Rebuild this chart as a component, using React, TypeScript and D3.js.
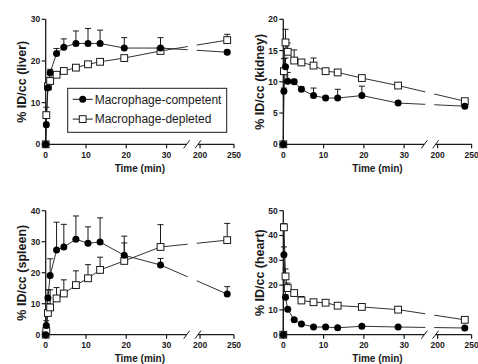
import * as d3 from 'd3'

// sampling times (min)
const times = [0, 0.15, 0.55, 1.1, 2.7, 4.5, 7.5, 10.5, 13.5, 19.5, 28.5, 240]

const liverComp = [0, 4.7, 13.6, 17.2, 21.8, 23.3, 24.2, 24.2, 24.2, 23.1, 23.1, 22.1]
const liverCompErr = [0, 0.6, 1.0, 0.8, 1.2, 2.0, 3.0, 3.6, 3.2, 2.5, 2.5, 0.5]
const liverDep = [0, 7.0, 13.9, 15.2, 16.7, 17.6, 18.4, 19.2, 19.8, 20.7, 22.4, 25.0]
const liverDepErr = [0, 1.9, 0.5, 0.9, 0.5, 0.6, 0.7, 0.5, 0.5, 0.5, 0.6, 1.4]

const kidneyComp = [0, 8.5, 12.4, 10.1, 10.0, 8.8, 7.8, 7.4, 7.4, 7.8, 6.6, 6.1]
const kidneyCompErr = [0, 0.5, 1.4, 1.4, 0.4, 0.4, 1.2, 0.3, 1.4, 1.5, 0.3, 0.3]
const kidneyDep = [0, 11.7, 16.3, 14.8, 13.4, 13.1, 12.6, 11.7, 11.5, 10.6, 9.4, 6.9]
const kidneyDepErr = [0, 2.0, 2.1, 1.4, 1.7, 0.3, 1.2, 0.3, 0.3, 0.3, 0.3, 0.3]

const spleenComp = [0, 3.0, 11.8, 19.1, 27.3, 28.3, 30.8, 29.5, 29.9, 25.6, 22.5, 13.1]
const spleenCompErr = [0, 1.5, 2.7, 5.4, 9.0, 7.3, 7.5, 5.3, 7.8, 6.2, 2.1, 2.4]
const spleenDep = [0, 1.2, 7.0, 8.8, 11.7, 13.3, 16.0, 18.2, 20.9, 23.8, 28.3, 30.5]
const spleenDepErr = [0, 1.0, 3.0, 5.7, 3.5, 4.4, 4.6, 4.4, 4.1, 5.8, 7.2, 5.4]

const heartComp = [0, 32.2, 15.1, 10.3, 6.0, 4.3, 3.1, 3.1, 2.8, 3.4, 3.1, 2.7]
const heartCompErr = [0, 3.2, 1.0, 0.6, 0.5, 0.4, 0.3, 0.3, 0.3, 0.3, 0.3, 0.3]
const heartDep = [0, 43.3, 23.5, 18.8, 16.8, 13.8, 13.1, 12.9, 11.7, 11.2, 10.1, 6.0]
const heartDepErr = [0, 1.5, 3.0, 2.0, 1.0, 1.6, 0.6, 0.5, 0.5, 0.5, 0.5, 0.5]

const xTicksA = [0, 10, 20, 30]
const xTicksB = [200, 250]
const seriesNames = ['Macrophage-competent', 'Macrophage-depleted']

const panels = [
  { id: 'liver', label: '% ID/cc (liver)', yTicks: [0, 10, 20, 30], comp: liverComp, compErr: liverCompErr, dep: liverDep, depErr: liverDepErr, ox: 45.7, oy: 144.3, h: 125 },
  { id: 'kidney', label: '% ID/cc (kidney)', yTicks: [0, 5, 10, 15, 20], comp: kidneyComp, compErr: kidneyCompErr, dep: kidneyDep, depErr: kidneyDepErr, ox: 283.3, oy: 144.3, h: 125 },
  { id: 'spleen', label: '% ID/cc (spleen)', yTicks: [0, 10, 20, 30, 40], comp: spleenComp, compErr: spleenCompErr, dep: spleenDep, depErr: spleenDepErr, ox: 45.7, oy: 334.7, h: 124 },
  { id: 'heart', label: '% ID/cc (heart)', yTicks: [0, 10, 20, 30, 40, 50], comp: heartComp, compErr: heartCompErr, dep: heartDep, depErr: heartDepErr, ox: 283.3, oy: 334.7, h: 124 },
]

const font = '"Liberation Sans", Arial, sans-serif'
const ink = '#1a1a1a'

function Panel({ p }) {
  // broken x axis: 0-35 min, then 197-250 min
  const xA = d3.scaleLinear().domain([0, 35]).range([0, 141])
  const xB = d3.scaleLinear().domain([197, 250]).range([152.3, 188.3])
  const xp = (t) => (t <= 35 ? xA(t) : xB(t))
  const y = d3.scaleLinear().domain([0, p.yTicks[p.yTicks.length - 1]]).range([0, -p.h])

  const pts = (vals) => times.map((t, i) => [xp(t), y(vals[i])])
  const line = d3.line()
  const clipId = 'clip-' + p.id

  const errBars = (vals, errs, key) =>
    times.map((t, i) => {
      if (!errs[i]) return null
      const x = xp(t)
      const y0 = y(vals[i])
      const y1 = y(vals[i] + errs[i])
      return (
        <g key={key + i} stroke={ink} strokeWidth={1}>
          <line x1={x} x2={x} y1={y0} y2={y1} />
          <line x1={x - 3} x2={x + 3} y1={y1} y2={y1} />
        </g>
      )
    })

  return (
    <g transform={`translate(${p.ox},${p.oy})`} fontFamily={font}>
      <defs>
        <clipPath id={clipId}>
          <rect x={-10} y={-p.h - 20} width={152} height={p.h + 30} />
          <rect x={151} y={-p.h - 20} width={60} height={p.h + 30} />
        </clipPath>
      </defs>

      {/* y axis */}
      <line x1={0} x2={0} y1={0} y2={-p.h} stroke={ink} strokeWidth={1.3} />
      {p.yTicks.map((v) => (
        <g key={'y' + v} transform={`translate(0,${y(v)})`}>
          <line x1={-4} x2={0} stroke={ink} strokeWidth={1.2} />
          <text x={-5.5} dy="0.35em" textAnchor="end" fontSize={8.5} fontWeight="bold" fill={ink}>{v}</text>
        </g>
      ))}
      <text transform={`translate(-24,${-p.h / 2}) rotate(-90)`} textAnchor="middle" dy="0.35em" fontSize={12.5} fontWeight="bold" fill={ink}>{p.label}</text>

      {/* x axis with break */}
      <line x1={0} x2={xA(35)} y1={0} y2={0} stroke={ink} strokeWidth={1.3} />
      <line x1={xB(197)} x2={xB(250)} y1={0} y2={0} stroke={ink} strokeWidth={1.3} />
      <line x1={xA(35) - 3} x2={xA(35) + 3} y1={4} y2={-4} stroke={ink} strokeWidth={1} />
      <line x1={xB(197) - 3} x2={xB(197) + 3} y1={4} y2={-4} stroke={ink} strokeWidth={1} />
      {xTicksA.map((v) => (
        <g key={'xa' + v} transform={`translate(${xA(v)},0)`}>
          <line y1={0} y2={4} stroke={ink} strokeWidth={1.2} />
          <text y={13.5} textAnchor="middle" fontSize={8.5} fontWeight="bold" fill={ink}>{v}</text>
        </g>
      ))}
      {xTicksB.map((v) => (
        <g key={'xb' + v} transform={`translate(${xB(v)},0)`}>
          <line y1={0} y2={4} stroke={ink} strokeWidth={1.2} />
          <text y={13.5} textAnchor="middle" fontSize={8.5} fontWeight="bold" fill={ink}>{v}</text>
        </g>
      ))}
      <text x={xB(197) / 2 + 18} y={27.5} textAnchor="middle" fontSize={10} fontWeight="bold" fill={ink}>Time (min)</text>

      {/* connecting lines */}
      <g clipPath={`url(#${clipId})`} fill="none" stroke={ink} strokeWidth={0.9}>
        <path d={line(pts(p.comp))} />
        <path d={line(pts(p.dep))} />
      </g>

      {errBars(p.comp, p.compErr, 'ec')}
      {errBars(p.dep, p.depErr, 'ed')}

      {pts(p.dep).map(([cx, cy], i) => (
        <rect key={'s' + i} x={cx - 3.4} y={cy - 3.4} width={6.8} height={6.8} fill="#fff" stroke={ink} strokeWidth={1} />
      ))}
      {pts(p.comp).map(([cx, cy], i) => (
        <circle key={'c' + i} cx={cx} cy={cy} r={3.5} fill="#000" />
      ))}
    </g>
  )
}

function Legend() {
  const x0 = 67.7
  const y0 = 88.3
  return (
    <g fontFamily={font}>
      <rect x={x0} y={y0} width={159} height={44} fill="#fff" stroke={ink} strokeWidth={1} />
      {seriesNames.map((name, i) => {
        const cy = y0 + 11 + i * 19.8
        return (
          <g key={name}>
            <line x1={x0 + 5} x2={x0 + 25} y1={cy} y2={cy} stroke={ink} strokeWidth={1} />
            {i === 0 ? (
              <circle cx={x0 + 15} cy={cy} r={3.5} fill="#000" />
            ) : (
              <rect x={x0 + 11.6} y={cy - 3.4} width={6.8} height={6.8} fill="#fff" stroke={ink} strokeWidth={1} />
            )}
            <text x={x0 + 27} y={cy} dy="0.35em" fontSize={12} fill={ink}>{name}</text>
          </g>
        )
      })}
    </g>
  )
}

export default function App() {
  return (
    <svg width={478} height={364} style={{ position: 'absolute', left: 0, top: 0, background: '#fff' }}>
      {panels.map((p) => (
        <Panel key={p.id} p={p} />
      ))}
      <Legend />
    </svg>
  )
}
